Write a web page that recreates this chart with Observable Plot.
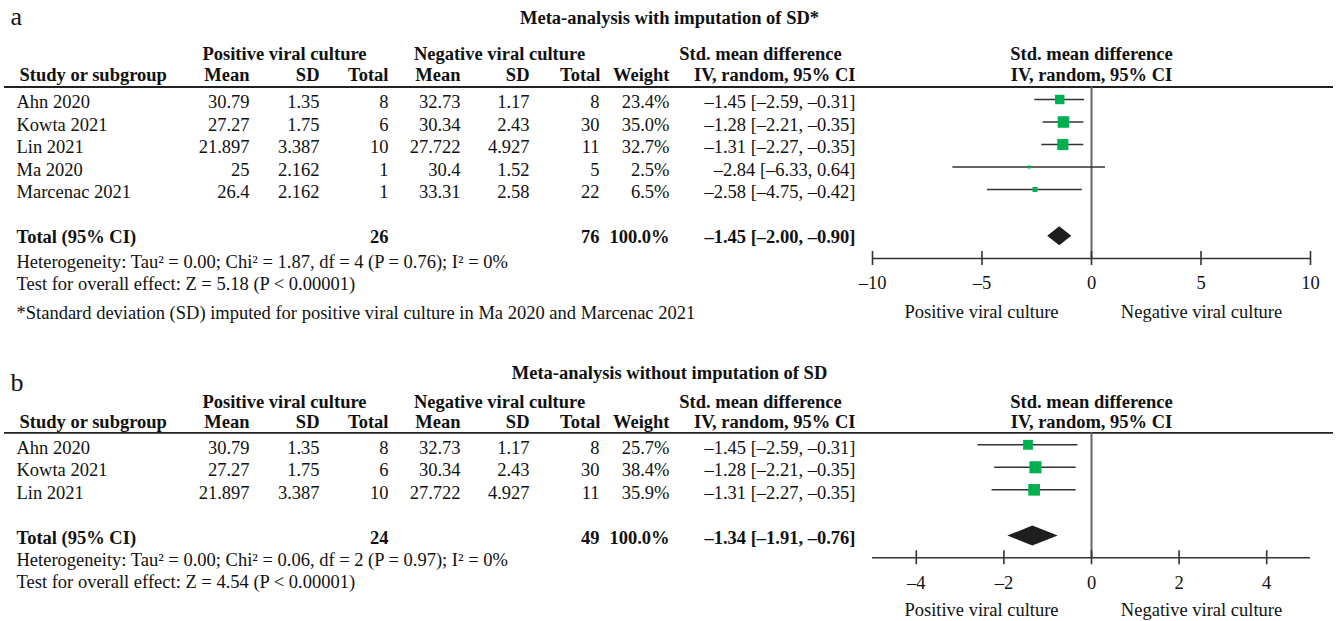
<!DOCTYPE html>
<html>
<head>
<meta charset="utf-8">
<script src="https://cdn.jsdelivr.net/npm/d3@7"></script>
<script src="https://cdn.jsdelivr.net/npm/@observablehq/plot@0.6"></script>
<style>
  body { margin: 0; background: #fff; }
  #chart { width: 1338px; height: 621px; background: #fff; }
  #chart svg { display: block; }
</style>
</head>
<body>
<div id="chart"></div>
<script>
// ---------------- DATA ----------------
// Panel a: with imputation of SD
const titleA = "Meta-analysis with imputation of SD*";
const studiesA = ["Ahn 2020", "Kowta 2021", "Lin 2021", "Ma 2020", "Marcenac 2021"];
const posMeanA = [30.79, 27.27, 21.897, 25, 26.4];
const posSdA   = [1.35, 1.75, 3.387, 2.162, 2.162];
const posNA    = [8, 6, 10, 1, 1];
const negMeanA = [32.73, 30.34, 27.722, 30.4, 33.31];
const negSdA   = [1.17, 2.43, 4.927, 1.52, 2.58];
const negNA    = [8, 30, 11, 5, 22];
const weightA  = [23.4, 35.0, 32.7, 2.5, 6.5];
const smdA     = [-1.45, -1.28, -1.31, -2.84, -2.58];
const loA      = [-2.59, -2.21, -2.27, -6.33, -4.75];
const hiA      = [-0.31, -0.35, -0.35, 0.64, -0.42];
const totalA   = [26, 76, 100.0, -1.45, -2.00, -0.90]; // posN, negN, weight, smd, lo, hi
const ticksA   = [-10, -5, 0, 5, 10];
const footnoteA = "*Standard deviation (SD) imputed for positive viral culture in Ma 2020 and Marcenac 2021";

// Panel b: without imputation of SD
const titleB = "Meta-analysis without imputation of SD";
const studiesB = ["Ahn 2020", "Kowta 2021", "Lin 2021"];
const posMeanB = [30.79, 27.27, 21.897];
const posSdB   = [1.35, 1.75, 3.387];
const posNB    = [8, 6, 10];
const negMeanB = [32.73, 30.34, 27.722];
const negSdB   = [1.17, 2.43, 4.927];
const negNB    = [8, 30, 11];
const weightB  = [25.7, 38.4, 35.9];
const smdB     = [-1.45, -1.28, -1.31];
const loB      = [-2.59, -2.21, -2.27];
const hiB      = [-0.31, -0.35, -0.35];
const totalB   = [24, 49, 100.0, -1.34, -1.91, -0.76];
const ticksB   = [-4, -2, 0, 2, 4];

// Heterogeneity / overall effect statistics [a, b]
const tau2 = [0.00, 0.00];
const chi2 = [1.87, 0.06];
const dfHet = [4, 2];
const pHet = [0.76, 0.97];
const i2 = [0, 0];
const zOverall = [5.18, 4.54];

// Text labels
const groupHeads = ["Positive viral culture", "Negative viral culture", "Std. mean difference", "Std. mean difference"];
const colHeads = ["Study or subgroup", "Mean", "SD", "Total", "Mean", "SD", "Total", "Weight", "IV, random, 95% CI", "IV, random, 95% CI"];
const totalLabel = "Total (95% CI)";
const sideLabels = ["Positive viral culture", "Negative viral culture"];

// ---------------- HELPERS ----------------
const DASH = "\u2013";
const fmtSigned = v => (v < 0 ? DASH : "") + Math.abs(v).toFixed(2);
const fmtCI = (e, l, h) => `${fmtSigned(e)} [${fmtSigned(l)}, ${fmtSigned(h)}]`;
const fmtTick = v => (v < 0 ? DASH : "") + Math.abs(v);
const hetText = k => `Heterogeneity: Tau\u00B2 = ${tau2[k].toFixed(2)}; Chi\u00B2 = ${chi2[k].toFixed(2)}, df = ${dfHet[k]} (P = ${pHet[k].toFixed(2)}); I\u00B2 = ${i2[k]}%`;
const testText = k => `Test for overall effect: Z = ${zOverall[k].toFixed(2)} (P < 0.00001)`;

const W = 1338;
const XR = [872, 1310];   // pixel range of the forest plot axis
const FONT = "'Liberation Serif', 'Times New Roman', serif";
const GREEN = "#00b050";

function makePanel(p) {
  const L = p.layout;
  const rows = p.studies.map((study, i) => ({
    study, row: i,
    posMean: p.posMean[i], posSd: p.posSd[i], posN: p.posN[i],
    negMean: p.negMean[i], negSd: p.negSd[i], negN: p.negN[i],
    weight: p.weight[i], smd: p.smd[i], lo: p.lo[i], hi: p.hi[i]
  }));
  const [tPos, tNeg, tW, tSmd, tLo, tHi] = p.total;
  const textY = d => L.row0 + d.row * L.step;
  const markY = d => L.row0 + d.row * L.step + L.markShift;
  const totalY = L.row0 + L.totalRow * L.step;
  const dY = totalY + L.diamondShift;
  const diamond = [
    {x: tLo, y1: dY, y2: dY},
    {x: tSmd, y1: dY - L.diamondHalf, y2: dY + L.diamondHalf},
    {x: tHi, y1: dY, y2: dY}
  ];
  const xs = Plot.scale({x: {domain: p.domain, range: XR}});
  const at = (px, anchor = "end", extra = {}) => ({frameAnchor: "left", dx: px, textAnchor: anchor, ...extra});
  const bold = {fontWeight: "bold"};

  // table columns: [value accessor, right/left px, anchor]
  const cols = [
    [d => d.study, 16, "start"],
    [d => String(d.posMean), 249, "end"],
    [d => String(d.posSd), 319, "end"],
    [d => String(d.posN), 388, "end"],
    [d => String(d.negMean), 460, "end"],
    [d => String(d.negSd), 529, "end"],
    [d => String(d.negN), 599, "end"],
    [d => d.weight.toFixed(1) + "%", 669, "end"],
    [d => fmtCI(d.smd, d.lo, d.hi), 855, "end"]
  ];
  const headPos = [[19, "start"], [249, "end"], [319, "end"], [388, "end"], [460, "end"], [529, "end"], [600, "end"], [669, "end"], [855, "end"], [1091, "middle"]];
  const groupPos = [284, 499, 760, 1091];

  const marks = [
    Plot.text([p.letter], at(10, "start", {y: L.letter, fontSize: 26})),
    Plot.text([p.title], at(669, "middle", {y: L.title, ...bold})),
    ...groupHeads.map((g, i) => Plot.text([g], at(groupPos[i], "middle", {y: L.head1, ...bold}))),
    ...colHeads.map((h, i) => Plot.text([h], at(headPos[i][0], headPos[i][1], {y: L.head2, ...bold}))),
    Plot.ruleY([L.rule], {x1: xs.invert(4), x2: xs.invert(1333), stroke: "#222", strokeWidth: 1.8}),
    ...cols.map(([f, px, anchor]) => Plot.text(rows, at(px, anchor, {y: textY, text: f}))),
    Plot.text([totalLabel], at(16, "start", {y: totalY, ...bold})),
    Plot.text([String(tPos)], at(388, "end", {y: totalY, ...bold})),
    Plot.text([String(tNeg)], at(599, "end", {y: totalY, ...bold})),
    Plot.text([tW.toFixed(1) + "%"], at(669, "end", {y: totalY, ...bold})),
    Plot.text([fmtCI(tSmd, tLo, tHi)], at(855, "end", {y: totalY, ...bold})),
    Plot.text([hetText(p.k)], at(16, "start", {y: L.het})),
    Plot.text([testText(p.k)], at(16, "start", {y: L.test})),
    ...(p.footnote ? [Plot.text([p.footnote], at(16, "start", {y: L.foot}))] : []),

    // forest plot
    Plot.ruleX([0], {y1: L.rule, y2: L.axis, stroke: "#666", strokeWidth: 2}),
    Plot.ruleY(rows, {x1: "lo", x2: "hi", y: markY, stroke: "#333", strokeWidth: 1.6}),
    Plot.dot(rows, {x: "smd", y: markY, r: "weight", symbol: "square", fill: GREEN, stroke: null}),
    Plot.areaY(diamond, {x: "x", y1: "y1", y2: "y2", fill: "#1e1e1e", curve: "linear"}),
    Plot.ruleY([L.axis], {x1: p.domain[0], x2: p.domain[1], stroke: "#333", strokeWidth: 1.6}),
    Plot.ruleX(p.ticks, {x: d => d, y1: L.axis - 7, y2: L.axis + 7, stroke: "#333", strokeWidth: 1.6}),
    Plot.text(p.ticks, {x: d => d, y: L.tickLabel, text: fmtTick, textAnchor: "middle"}),
    Plot.text([sideLabels[0]], at(981, "middle", {y: L.side})),
    Plot.text([sideLabels[1]], at(1201, "middle", {y: L.side}))
  ];

  return Plot.plot({
    width: W,
    height: L.height,
    margin: 0,
    x: {domain: p.domain, range: XR, axis: null},
    y: {domain: [0, L.height], range: [0, L.height], axis: null},
    r: {type: "sqrt", domain: [0, 100], range: [0, 11]},
    style: {fontFamily: FONT, fontSize: "18.5px", color: "#111", background: "#fff", overflow: "visible"},
    marks
  });
}

const panelA = makePanel({
  k: 0, letter: "a", title: titleA, footnote: footnoteA,
  studies: studiesA, posMean: posMeanA, posSd: posSdA, posN: posNA,
  negMean: negMeanA, negSd: negSdA, negN: negNA,
  weight: weightA, smd: smdA, lo: loA, hi: hiA, total: totalA,
  domain: [-10, 10], ticks: ticksA,
  layout: {height: 340, letter: 16, title: 18, head1: 54, head2: 75, rule: 86.5,
           row0: 102, step: 22.5, totalRow: 6, markShift: -3, diamondShift: -1.3, diamondHalf: 9.5,
           het: 262, test: 284, foot: 312.5, axis: 258, tickLabel: 283, side: 312}
});

const panelB = makePanel({
  k: 1, letter: "b", title: titleB, footnote: null,
  studies: studiesB, posMean: posMeanB, posSd: posSdB, posN: posNB,
  negMean: negMeanB, negSd: negSdB, negN: negNB,
  weight: weightB, smd: smdB, lo: loB, hi: hiB, total: totalB,
  domain: [-5, 5], ticks: ticksB,
  layout: {height: 281, letter: 42, title: 32.5, head1: 61.5, head2: 81.5, rule: 92.3,
           row0: 107.3, step: 22.5, totalRow: 4, markShift: -3, diamondShift: -1.7, diamondHalf: 10,
           het: 220, test: 241.5, foot: 0, axis: 217.3, tickLabel: 243, side: 270}
});

const chart = document.getElementById("chart");
chart.append(panelA, panelB);
</script>
</body>
</html>
